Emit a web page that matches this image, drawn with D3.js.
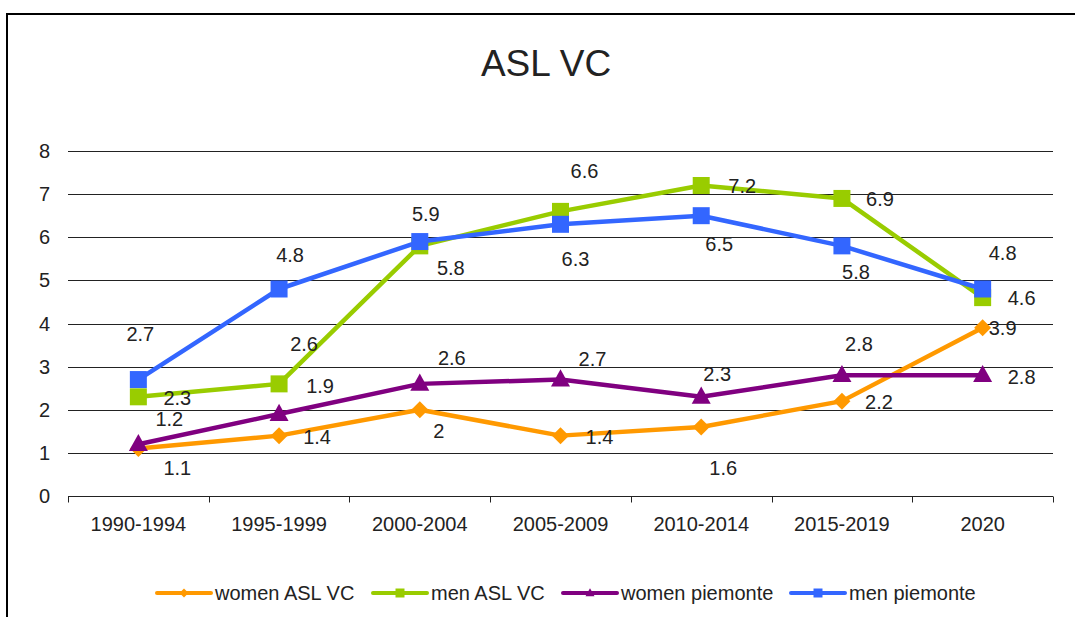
<!DOCTYPE html>
<html>
<head>
<meta charset="utf-8">
<script src="https://cdn.jsdelivr.net/npm/d3@7"></script>
<style>
  body { margin: 0; background: #fff; }
  text { font-family: "Liberation Sans", Arial, sans-serif; fill: #222; }
</style>
</head>
<body>
<svg class="chart" width="1075" height="617"></svg>
<script>
var categories = ["1990-1994", "1995-1999", "2000-2004", "2005-2009", "2010-2014", "2015-2019", "2020"];

var womenAslVc = [1.1, 1.4, 2, 1.4, 1.6, 2.2, 3.9];
var menAslVc = [2.3, 2.6, 5.8, 6.6, 7.2, 6.9, 4.6];
var womenPiemonte = [1.2, 1.9, 2.6, 2.7, 2.3, 2.8, 2.8];
var menPiemonte = [2.7, 4.8, 5.9, 6.3, 6.5, 5.8, 4.8];

var yTicks = [0, 1, 2, 3, 4, 5, 6, 7, 8];

// where each data label sits relative to its point (px)
var labelOffsets = {
  "women ASL VC": [[39, 19], [38, 1], [19, 21], [39, 1], [22, 41], [37, 1], [20, 0]],
  "men ASL VC": [[39, 1], [25, -40], [31, 22], [24, -40], [41, 0], [38, 1], [39, 0]],
  "women piemonte": [[31, -25], [41, -28], [32, -26], [32, -21], [16, -23], [17, -31], [39, 2]],
  "men piemonte": [[2, -46], [11, -34], [6, -28], [15, 35], [18, 28], [14, 26], [20, -36]]
};

var series = [
  {name: "women ASL VC", values: womenAslVc, color: "#FF9900", marker: "diamond"},
  {name: "men ASL VC", values: menAslVc, color: "#99CC00", marker: "square"},
  {name: "women piemonte", values: womenPiemonte, color: "#800080", marker: "triangle"},
  {name: "men piemonte", values: menPiemonte, color: "#3366FF", marker: "square"}
];

var svg = d3.select(".chart");

var plotLeft = 68, plotRight = 1053, plotTop = 151, plotBottom = 496;
var fontSize = "20px";

var xBand = d3.scaleBand().domain(categories).range([plotLeft, plotRight]);
var x = function(c) { return xBand(c) + xBand.bandwidth() / 2; };
var y = d3.scaleLinear().domain([0, 8]).range([plotBottom, plotTop]);

// outer frame (cropped at right / bottom)
svg.append("rect")
  .attr("x", 7).attr("y", 14)
  .attr("width", 1200).attr("height", 800)
  .attr("fill", "none")
  .attr("stroke", "#000")
  .attr("stroke-width", 2);

svg.append("text")
  .attr("x", 546).attr("y", 76)
  .attr("text-anchor", "middle")
  .style("font-size", "37px")
  .text("ASL VC");

// gridlines
svg.append("g")
  .selectAll("line")
  .data(yTicks.filter(function(d) { return d > 0; }))
  .enter().append("line")
  .attr("x1", plotLeft).attr("x2", plotRight)
  .attr("y1", function(d) { return Math.round(y(d)) + 0.5; })
  .attr("y2", function(d) { return Math.round(y(d)) + 0.5; })
  .attr("stroke", "#222")
  .attr("stroke-width", 1.2);

// y axis labels
svg.append("g")
  .selectAll("text")
  .data(yTicks)
  .enter().append("text")
  .attr("x", 50)
  .attr("y", function(d) { return y(d); })
  .attr("dy", "0.35em")
  .attr("text-anchor", "end")
  .style("font-size", fontSize)
  .text(function(d) { return d; });

// x axis
var xAxis = svg.append("g")
  .attr("transform", "translate(0," + (Math.round(plotBottom) + 0.5) + ")");
xAxis.append("line")
  .attr("x1", plotLeft).attr("x2", plotRight)
  .attr("stroke", "#222").attr("stroke-width", 1.2);
xAxis.selectAll(".tick")
  .data(categories.concat([null]))
  .enter().append("line")
  .attr("class", "tick")
  .attr("x1", function(d, i) { return Math.round(plotLeft + i * xBand.step()) + 0.5; })
  .attr("x2", function(d, i) { return Math.round(plotLeft + i * xBand.step()) + 0.5; })
  .attr("y1", 0).attr("y2", 6)
  .attr("stroke", "#222");
xAxis.selectAll(".cat")
  .data(categories)
  .enter().append("text")
  .attr("class", "cat")
  .attr("x", function(d) { return x(d); })
  .attr("y", 27)
  .attr("dy", "0.35em")
  .attr("text-anchor", "middle")
  .style("font-size", fontSize)
  .text(function(d) { return d; });

var line = d3.line()
  .x(function(d, i) { return x(categories[i]); })
  .y(function(d) { return y(d); });

function markerPath(type, s) {
  if (type === "square") return "M" + (-s / 2) + "," + (-s / 2) + "h" + s + "v" + s + "h" + (-s) + "Z";
  if (type === "diamond") return "M0," + (-s / 2) + "L" + (s / 2) + ",0L0," + (s / 2) + "L" + (-s / 2) + ",0Z";
  var h = s * 0.9;
  return "M0," + (-h * 0.6) + "L" + (s / 2) + "," + (h * 0.4) + "L" + (-s / 2) + "," + (h * 0.4) + "Z";
}
var markerSize = {square: 17, diamond: 17, triangle: 19};

series.forEach(function(sr) {
  var g = svg.append("g");
  g.append("path")
    .datum(sr.values)
    .attr("d", line)
    .attr("fill", "none")
    .attr("stroke", sr.color)
    .attr("stroke-width", 4.5)
    .attr("stroke-linejoin", "round");
  g.selectAll(".m")
    .data(sr.values)
    .enter().append("path")
    .attr("class", "m")
    .attr("transform", function(d, i) { return "translate(" + x(categories[i]) + "," + y(d) + ")"; })
    .attr("d", markerPath(sr.marker, markerSize[sr.marker]))
    .attr("fill", sr.color);
});

// data labels
series.forEach(function(sr) {
  var offs = labelOffsets[sr.name];
  svg.append("g")
    .selectAll("text")
    .data(sr.values)
    .enter().append("text")
    .attr("x", function(d, i) { return x(categories[i]) + offs[i][0]; })
    .attr("y", function(d, i) { return y(d) + offs[i][1]; })
    .attr("dy", "0.35em")
    .attr("text-anchor", "middle")
    .style("font-size", fontSize)
    .text(function(d) { return d; });
});

// legend
var legendX = [157, 373, 563, 791];
var legend = svg.append("g").attr("transform", "translate(0,593)");
series.forEach(function(sr, i) {
  var lg = legend.append("g").attr("transform", "translate(" + legendX[i] + ",0)");
  lg.append("line")
    .attr("x1", 0).attr("x2", 54)
    .attr("stroke", sr.color).attr("stroke-width", 4)
    .attr("stroke-linecap", "round");
  lg.append("path")
    .attr("transform", "translate(27,0)")
    .attr("d", markerPath(sr.marker, 9))
    .attr("fill", sr.color);
  lg.append("text")
    .attr("x", 58)
    .attr("dy", "0.35em")
    .style("font-size", fontSize)
    .text(sr.name);
});
</script>
</body>
</html>
